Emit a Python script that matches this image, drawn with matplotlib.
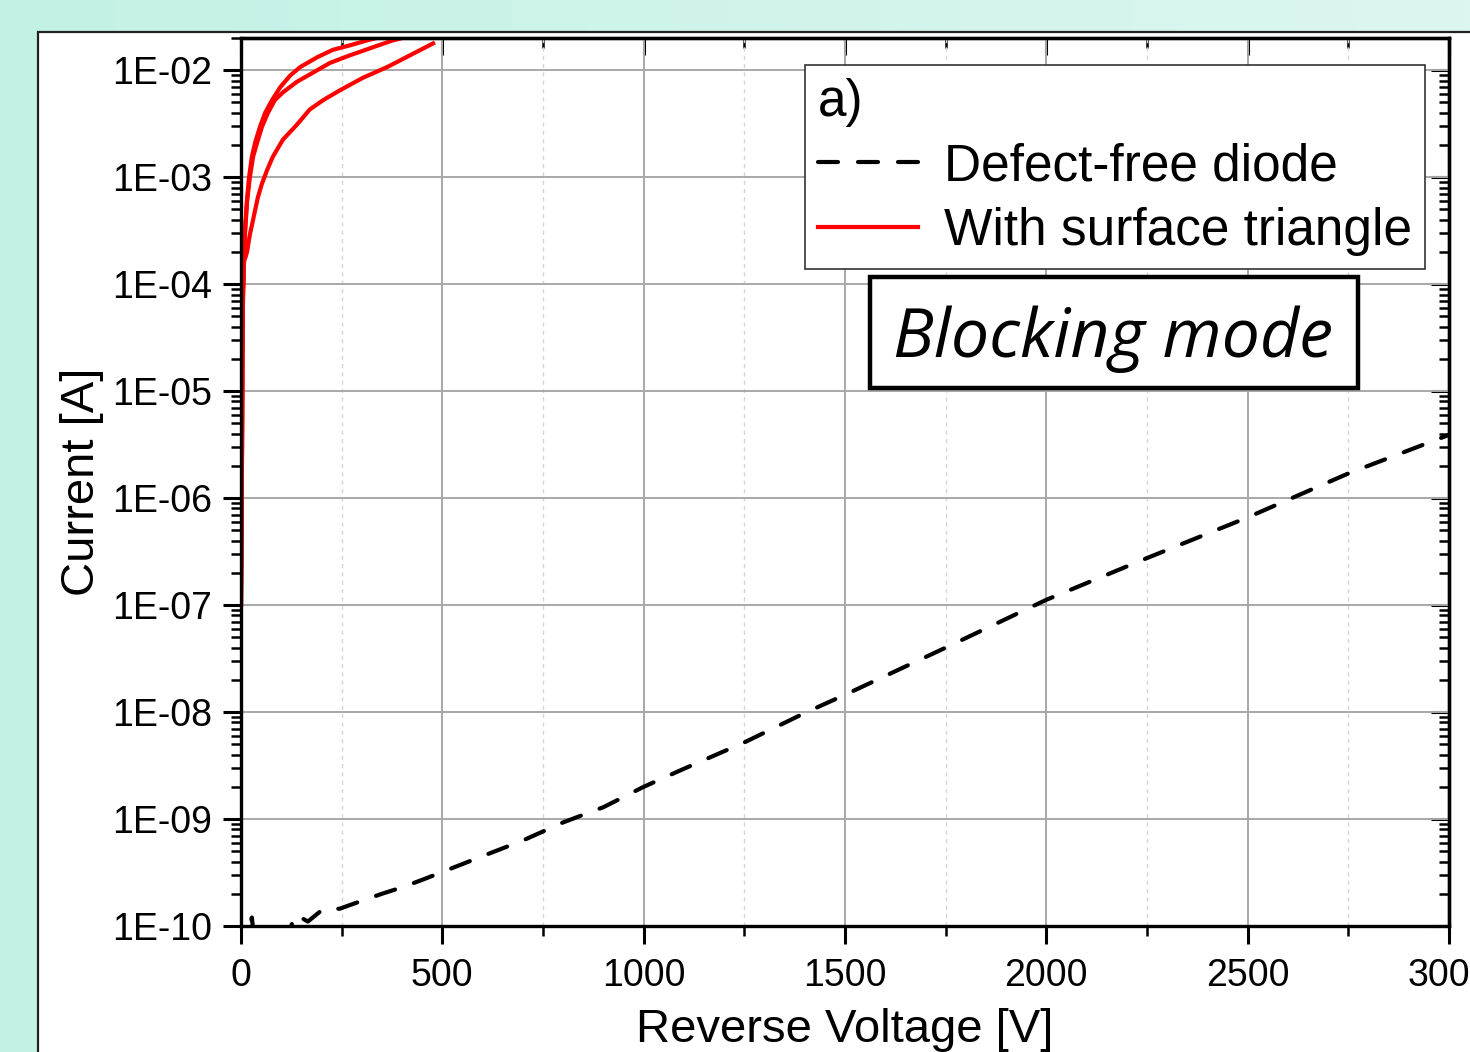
import matplotlib
matplotlib.use('Agg')
import matplotlib.pyplot as plt
import matplotlib.ticker as ticker
from matplotlib.colors import LinearSegmentedColormap
from matplotlib.patches import Rectangle
import numpy as np

plt.rcParams['font.family'] = ['Liberation Sans', 'DejaVu Sans']

# Defect-free diode (dashed black)
v_ref = [0, 20, 27, 32, 60, 85, 90, 100, 120, 135, 166, 205, 245, 300, 350, 400, 450,
         500, 600, 700, 800, 900, 1000, 1100, 1250, 1400, 1500, 1750, 2000, 2250, 2500,
         2750, 3000]
i_ref = [5.0e-11, 8.9e-11, 1.2e-10, 7.9e-11, 6.3e-11, 9.5e-11, 1.2e-10, 8.9e-11, 8.9e-11,
         1.29e-10, 1.1e-10, 1.45e-10, 1.45e-10, 1.72e-10, 2.0e-10, 2.3e-10, 2.7e-10,
         3.2e-10, 4.5e-10, 6.3e-10, 9.3e-10, 1.29e-9, 2.0e-9, 2.95e-9, 5.2e-9, 9.8e-9,
         1.45e-8, 4.0e-8, 1.12e-7, 2.75e-7, 6.6e-7, 1.7e-6, 3.9e-6]

# With surface triangle (three red sweeps)
v_tri1 = [0, 1.2, 2.5, 3.7, 5, 7.5, 12, 15, 22, 35, 42, 52, 65, 79, 104, 139, 171, 204,
          246, 303, 363, 420, 477]
i_tri1 = [1.0e-7, 3.2e-7, 2.8e-6, 2.4e-5, 7.9e-5, 1.66e-4, 1.82e-4, 2.0e-4, 2.9e-4, 4.9e-4,
          6.5e-4, 8.7e-4, 1.17e-3, 1.55e-3, 2.24e-3, 3.1e-3, 4.3e-3, 5.25e-3, 6.5e-3,
          8.5e-3, 1.07e-2, 1.38e-2, 1.78e-2]
v_tri2 = [0, 1.2, 2.5, 3.7, 5, 7.5, 10, 15, 20, 27, 35, 47, 60, 77, 97, 122, 147, 189,
          228, 271, 313, 382]
i_tri2 = [1.0e-7, 3.2e-7, 2.8e-6, 2.4e-5, 8.7e-5, 1.66e-4, 3.2e-4, 6.2e-4, 1.0e-3, 1.55e-3,
          2.1e-3, 2.95e-3, 4.0e-3, 5.25e-3, 6.9e-3, 8.9e-3, 1.07e-2, 1.32e-2, 1.55e-2,
          1.71e-2, 1.9e-2, 2.2e-2]
v_tri3 = [0, 1.2, 2.5, 3.7, 5, 7.5, 10, 15, 22, 30, 40, 52, 67, 84, 104, 139, 179, 221,
          271, 328, 377, 445]
i_tri3 = [1.0e-7, 3.2e-7, 2.5e-6, 2.1e-5, 7.9e-5, 1.58e-4, 3.0e-4, 5.9e-4, 1.0e-3, 1.55e-3,
          2.1e-3, 2.95e-3, 4.0e-3, 5.25e-3, 6.2e-3, 7.8e-3, 9.5e-3, 1.17e-2, 1.38e-2,
          1.64e-2, 1.9e-2, 2.2e-2]

W, H = 1470, 1052
fig = plt.figure(figsize=(W / 100, H / 100), dpi=100)

# Background: teal gradient with white panel
bg = fig.add_axes([0, 0, 1, 1], zorder=-1)
grad = np.linspace(0, 1, 256).reshape(1, -1)
bg.imshow(grad, aspect='auto', extent=[0, 1, 0, 1],
          cmap=LinearSegmentedColormap.from_list('bg', ['#c3f1e6', '#ddf6f1']))
bg.add_patch(Rectangle((38 / W, -0.01), 1.1, 1 - 32 / H + 0.01,
                       fc='white', ec='#222222', lw=1.6))
bg.set_xlim(0, 1)
bg.set_ylim(0, 1)
bg.axis('off')

ax = fig.add_axes([241 / W, 1 - 926 / H, (1449 - 241) / W, (926 - 38) / H], zorder=1)

lw_red = 3.0
ax.plot(v_ref, i_ref, c='black', lw=3.0, ls=(0, (4.8, 4.8)), dash_capstyle='round',
        label='Defect-free diode')
ax.plot(v_tri1, i_tri1, c='red', lw=lw_red, label='With surface triangle')
ax.plot(v_tri2, i_tri2, c='red', lw=lw_red)
ax.plot(v_tri3, i_tri3, c='red', lw=lw_red)

# Axes
ax.set_yscale('log')
ax.set_xlim(0, 3000)
ax.set_ylim(1e-10, 2e-2)
ax.xaxis.set_major_locator(ticker.MultipleLocator(500))
ax.xaxis.set_minor_locator(ticker.MultipleLocator(250))
ax.yaxis.set_major_locator(ticker.LogLocator(base=10, numticks=20))
ax.yaxis.set_minor_locator(ticker.LogLocator(base=10, subs=np.arange(2, 10), numticks=20))
ax.yaxis.set_major_formatter(ticker.FuncFormatter(lambda v, p: f'{v:.0E}'))
ax.yaxis.set_minor_formatter(ticker.NullFormatter())

# Ticks
ax.tick_params(which='major', direction='out', length=13, width=2.2, labelsize=27)
ax.tick_params(which='minor', direction='out', length=7, width=1.8)
ax.tick_params(axis='x', pad=10)
ax.tick_params(axis='y', pad=8)

top = ax.secondary_xaxis('top')
top.xaxis.set_major_locator(ticker.MultipleLocator(500))
top.xaxis.set_minor_locator(ticker.MultipleLocator(250))
top.tick_params(which='major', direction='in', length=12, width=2.2, labeltop=False)
top.tick_params(which='minor', direction='in', length=7, width=1.8)

right = ax.secondary_yaxis('right')
right.yaxis.set_major_locator(ticker.LogLocator(base=10, numticks=20))
right.yaxis.set_minor_locator(ticker.LogLocator(base=10, subs=np.arange(2, 10), numticks=20))
right.tick_params(which='major', direction='in', length=13, width=2.2, labelright=False)
right.tick_params(which='minor', direction='in', length=7, width=1.8)

for a in (ax, top, right):
    for s in a.spines.values():
        s.set_linewidth(2.4)

# Grid
ax.set_axisbelow(True)
ax.grid(True, which='major', color='#a8a8a8', lw=1.4)
ax.xaxis.grid(True, which='minor', color='#d6d6d6', lw=1.0, ls=(0, (3, 3)))

# Labels
ax.set_xlabel('Reverse Voltage [V]', fontsize=34, labelpad=10)
ax.set_ylabel('Current [A]', fontsize=34, labelpad=6)

# Legend
leg = ax.legend(title='a)', loc='upper right', bbox_to_anchor=(0.980, 0.9696),
                borderaxespad=0, fontsize=37, title_fontsize=37, alignment='left',
                fancybox=False, edgecolor='#333333', framealpha=1, handlelength=1.95,
                handletextpad=0.5, borderpad=0.25, labelspacing=0.3)
leg.get_frame().set_linewidth(1.2)
leg.set_zorder(8)

# Blocking mode box
ax.add_patch(Rectangle((0.5207, 0.6059), 0.404, 0.125, transform=ax.transAxes,
                       fc='white', ec='black', lw=3.2, zorder=6))
ax.text(0.7219, 0.6408, 'Blocking mode', transform=ax.transAxes, ha='center',
        va='baseline', fontsize=49, fontstyle='italic', family=['Open Sans', 'DejaVu Sans'],
        zorder=7)

fig.savefig('out.png', dpi=100)
